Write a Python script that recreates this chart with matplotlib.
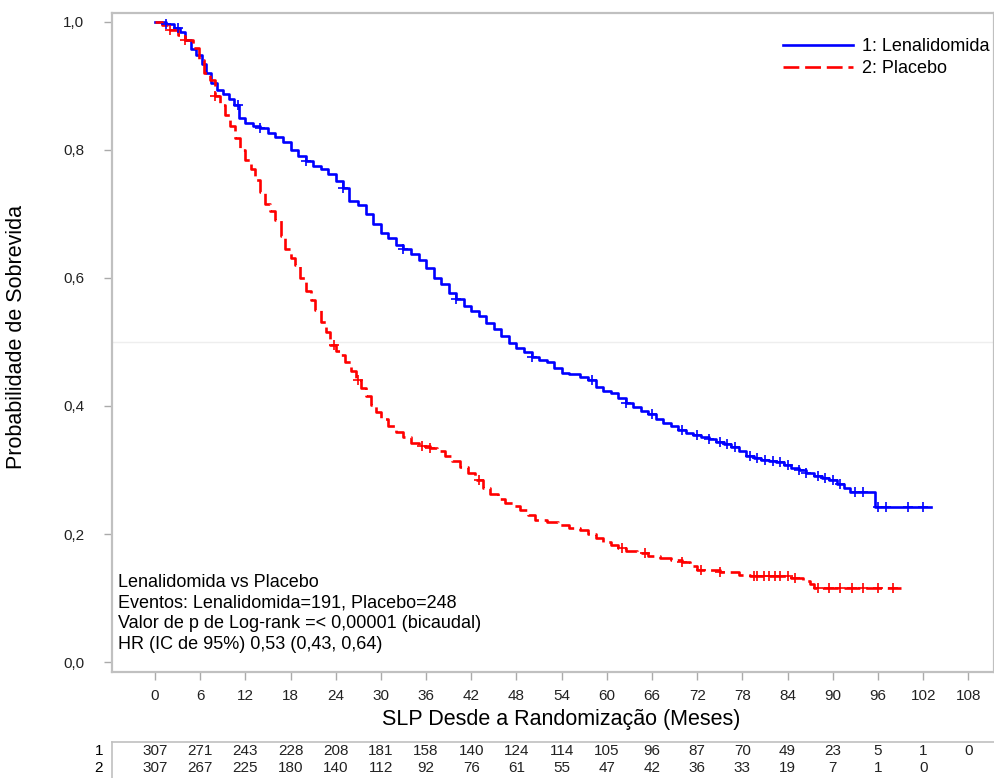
import numpy as np
import matplotlib.pyplot as plt
from matplotlib.transforms import blended_transform_factory
from matplotlib.lines import Line2D

plt.rcParams['font.family'] = ['Liberation Sans', 'DejaVu Sans']

# Kaplan-Meier steps (months, survival)
len_t = [0, 1.5, 2.5, 3.3, 4.0, 4.8, 5.5, 6.2, 6.8, 7.5, 8.2, 9.0, 9.8, 10.5, 11.2, 12.0,
         13.0, 14.0, 15.0, 16.0, 17.0, 18.0, 19.0, 20.0, 21.0, 22.0, 23.0, 24.0, 25.0, 25.8,
         27.0, 28.0, 29.0, 30.0, 31.0, 32.0, 33.0, 34.0, 35.0, 36.0, 37.0, 38.0, 39.0, 40.0,
         41.0, 42.0, 43.0, 44.0, 45.0, 46.0, 47.0, 48.0, 49.0, 50.0, 51.0, 52.0, 53.0, 54.0,
         55.0, 56.5, 57.5, 58.5, 59.5, 60.5, 61.5, 62.5, 63.5, 64.5, 65.5, 66.5, 67.5, 68.5,
         69.5, 70.5, 71.5, 72.5, 73.5, 74.5, 75.5, 76.5, 77.5, 78.5, 79.5, 80.5, 81.5, 82.5,
         83.5, 84.5, 85.5, 86.5, 87.5, 88.5, 89.5, 90.5, 91.5, 92.3, 95.6, 103.0]
len_s = [1.0, 0.997, 0.99, 0.984, 0.972, 0.958, 0.948, 0.935, 0.92, 0.905, 0.893, 0.887, 0.88,
         0.87, 0.85, 0.842, 0.838, 0.835, 0.826, 0.82, 0.812, 0.80, 0.79, 0.782, 0.775, 0.77,
         0.762, 0.752, 0.74, 0.72, 0.714, 0.70, 0.685, 0.67, 0.663, 0.652, 0.645, 0.638, 0.628,
         0.615, 0.60, 0.59, 0.577, 0.567, 0.557, 0.548, 0.54, 0.53, 0.52, 0.51, 0.498, 0.49,
         0.484, 0.477, 0.472, 0.468, 0.46, 0.452, 0.45, 0.446, 0.44, 0.43, 0.424, 0.42, 0.412,
         0.405, 0.399, 0.392, 0.388, 0.38, 0.374, 0.368, 0.362, 0.358, 0.355, 0.352, 0.348,
         0.344, 0.34, 0.336, 0.33, 0.322, 0.318, 0.316, 0.314, 0.312, 0.308, 0.303, 0.30, 0.296,
         0.29, 0.288, 0.284, 0.278, 0.272, 0.266, 0.242, 0.242]
len_cens = [1.5, 3, 11, 14, 20, 25, 33, 40, 50, 58, 62.5, 66, 70, 72, 73.5, 75, 76, 77, 79,
            80, 81, 82, 83, 84, 85.5, 86.5, 88, 89, 90, 91, 93, 94, 96, 97, 100, 102]

pla_t = [0, 1.0, 2.0, 3.0, 4.0, 5.0, 5.8, 6.5, 7.3, 8.0, 8.7, 9.3, 10.0, 10.6, 11.3, 12.0,
         12.7, 13.3, 14.0, 14.6, 15.3, 16.0, 16.7, 17.3, 18.0, 18.6, 19.3, 20.0, 20.7, 21.3,
         22.0, 22.7, 23.3, 24.0, 24.6, 25.3, 26.0, 26.7, 27.3, 28.0, 28.7, 29.4, 30.0, 31.0,
         32.0, 33.0, 34.0, 35.0, 36.5, 37.5, 38.5, 39.5, 40.5, 41.5, 42.5, 43.5, 44.5, 45.5,
         46.5, 47.5, 48.5, 49.5, 50.5, 52.0, 53.5, 55.0, 56.5, 57.5, 58.5, 59.5, 60.5, 61.5,
         62.5, 64.0, 65.5, 67.0, 68.5, 70.0, 71.0, 72.0, 75.0, 77.5, 79.0, 84.5, 86.0, 87.0,
         87.5, 99.0]
pla_s = [1.0, 0.995, 0.988, 0.98, 0.972, 0.96, 0.94, 0.92, 0.91, 0.885, 0.87, 0.855, 0.838,
         0.818, 0.80, 0.785, 0.77, 0.753, 0.735, 0.715, 0.705, 0.69, 0.665, 0.645, 0.632, 0.62,
         0.60, 0.58, 0.565, 0.55, 0.532, 0.515, 0.495, 0.486, 0.48, 0.468, 0.455, 0.44, 0.428,
         0.415, 0.402, 0.39, 0.38, 0.368, 0.36, 0.352, 0.342, 0.338, 0.334, 0.33, 0.322, 0.314,
         0.305, 0.295, 0.284, 0.272, 0.262, 0.255, 0.249, 0.243, 0.237, 0.23, 0.222, 0.218,
         0.214, 0.21, 0.206, 0.20, 0.194, 0.188, 0.183, 0.178, 0.173, 0.17, 0.166, 0.162, 0.16,
         0.156, 0.15, 0.144, 0.14, 0.136, 0.134, 0.131, 0.127, 0.122, 0.116, 0.116]
pla_cens = [2, 4, 8, 23.8, 27, 35.5, 36.5, 43, 62, 65, 70, 72.5, 75, 79.5, 80, 80.8, 81.5,
            82.3, 83, 84, 85, 88, 89.5, 91, 92.5, 94, 96, 98]

risk_months = list(range(0, 109, 6))
risk_len = [307, 271, 243, 228, 208, 181, 158, 140, 124, 114, 105, 96, 87, 70, 49, 23, 5, 1, 0]
risk_pla = [307, 267, 225, 180, 140, 112, 92, 76, 61, 55, 47, 42, 36, 33, 19, 7, 1, 0]

info_lines = ["Lenalidomida vs Placebo",
              "Eventos: Lenalidomida=191, Placebo=248",
              "Valor de p de Log-rank =< 0,00001 (bicaudal)",
              "HR (IC de 95%) 0,53 (0,43, 0,64)"]


def step_value(times, surv, t):
    idx = np.searchsorted(times, t, side='right') - 1
    return np.array(surv)[idx]


fig = plt.figure(figsize=(9.94, 7.78), dpi=100)
ax = fig.add_axes([112 / 994, 1 - 672 / 778, 1 - 112 / 994, (672 - 13) / 778])

ax.axhline(0.5, color='#eeeeee', lw=1, zorder=0)

ax.step(len_t, len_s, where='post', color='#0000ff', lw=1.9, label='1: Lenalidomida')
ax.step(pla_t, pla_s, where='post', color='#ff0000', lw=1.9, dashes=(6, 2.2),
        label='2: Placebo')
ax.plot(len_cens, step_value(len_t, len_s, len_cens), ls='none', marker='+',
        color='#0000ff', ms=7, mew=1.2)
ax.plot(pla_cens, step_value(pla_t, pla_s, pla_cens), ls='none', marker='+',
        color='#ff0000', ms=7, mew=1.2)

ax.set_xlim(-5.7, 111.4)
ax.set_ylim(-0.0156, 1.014)
ax.set_xticks(risk_months)
ax.set_yticks([0, 0.2, 0.4, 0.6, 0.8, 1.0])
ax.set_yticklabels(['0,0', '0,2', '0,4', '0,6', '0,8', '1,0'])
ax.tick_params(axis='both', colors='#aaaaaa', labelcolor='#222222', labelsize=11,
               length=6, width=1)
ax.tick_params(axis='y', pad=14)
ax.tick_params(axis='x', pad=6)
for side in ['left', 'top', 'bottom', 'right']:
    ax.spines[side].set_color('#c0c0c0')
    ax.spines[side].set_linewidth(1.6)

ax.set_xlabel('SLP Desde a Randomização (Meses)', fontsize=15.5)
ax.xaxis.set_label_coords((561 - 112) / 882, (672 - 709) / 659)
ax.set_ylabel('Probabilidade de Sobrevida', fontsize=15.5)
ax.yaxis.set_label_coords((27 - 112) / 882, (672 - 337) / 659)

leg = fig.legend(loc='upper left', bbox_to_anchor=(783 / 994, 1 - 38 / 778),
                 frameon=False, fontsize=13, handlelength=3.9, handletextpad=0.45,
                 labelspacing=0.3, borderpad=0, borderaxespad=0)

fig.text(118 / 994, 1 - 574 / 778, "\n".join(info_lines), fontsize=13, va='top',
         ha='left', linespacing=1.28)

# number at risk table
trans = blended_transform_factory(ax.transData, fig.transFigure)
for m, n in zip(risk_months, risk_len):
    ax.text(m, 1 - 751 / 778, str(n), transform=trans, ha='center', va='center',
            fontsize=11, color='#222222')
for m, n in zip(risk_months, risk_pla):
    ax.text(m, 1 - 768 / 778, str(n), transform=trans, ha='center', va='center',
            fontsize=11, color='#222222')
fig.text(103 / 994, 1 - 751 / 778, '1', ha='right', va='center', fontsize=11)
fig.text(103 / 994, 1 - 768 / 778, '2', ha='right', va='center', fontsize=11)
fig.add_artist(Line2D([112 / 994, 1], [1 - 742 / 778, 1 - 742 / 778],
                      transform=fig.transFigure, color='#c0c0c0', lw=1.2))
fig.add_artist(Line2D([112 / 994, 112 / 994], [1 - 742 / 778, 0],
                      transform=fig.transFigure, color='#c0c0c0', lw=1.2))

fig.savefig('out.png', dpi=100)
